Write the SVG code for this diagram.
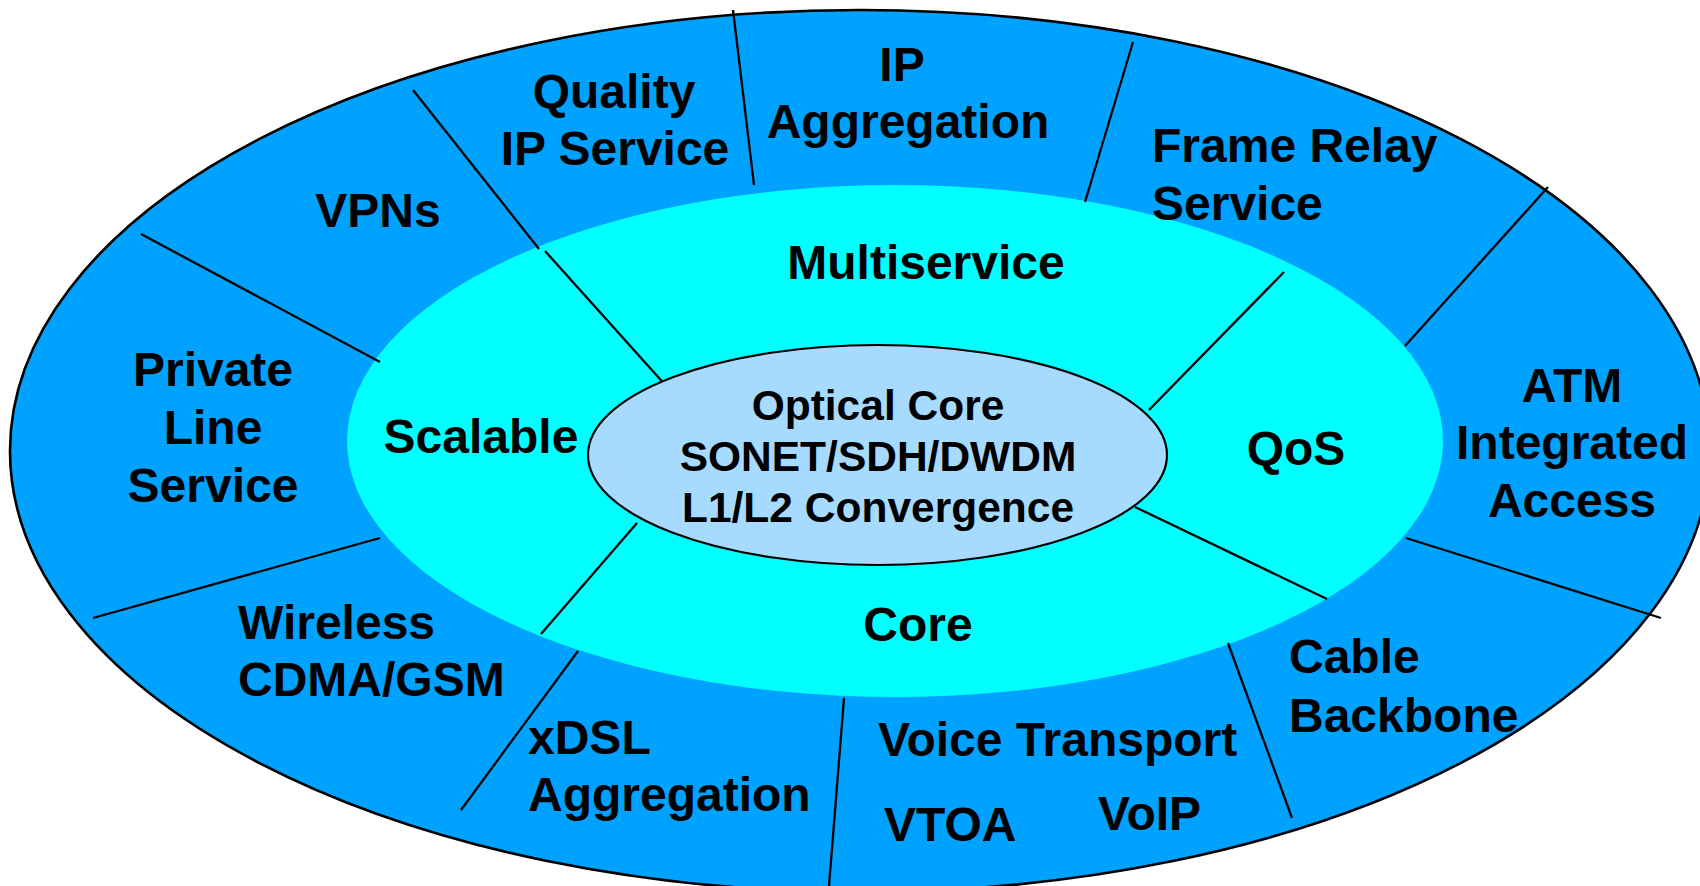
<svg xmlns="http://www.w3.org/2000/svg" width="1700" height="886" viewBox="0 0 1700 886">
<style>
text{font-family:"Liberation Sans",Arial,Helvetica,sans-serif;font-weight:bold;fill:#000}
.o{font-size:48px}
.c{text-anchor:middle}
.i{font-size:42.5px;text-anchor:middle}
.ln{stroke:#000;stroke-width:2.3;fill:none;stroke-linecap:butt}
</style>
<rect width="1700" height="886" fill="#fff"/>
<g id="outer-ring">
<ellipse cx="860" cy="451" rx="850" ry="441" fill="#00A2FF" stroke="#000" stroke-width="2.6"/>
</g>
<g id="middle-ring">
<ellipse cx="895" cy="441" rx="548" ry="256" fill="#00FFFF"/>
</g>
<g id="connectors">
<line class="ln" x1="733" y1="10" x2="754" y2="185"/>
<line class="ln" x1="413" y1="90" x2="539" y2="249"/>
<line class="ln" x1="545" y1="251" x2="668" y2="388"/>
<line class="ln" x1="141" y1="234" x2="380" y2="362"/>
<line class="ln" x1="1133" y1="42" x2="1085" y2="202"/>
<line class="ln" x1="1548" y1="187" x2="1405" y2="346"/>
<line class="ln" x1="1284" y1="272" x2="1149" y2="410"/>
<line class="ln" x1="380" y1="538" x2="93" y2="618"/>
<line class="ln" x1="637" y1="523" x2="541" y2="634"/>
<line class="ln" x1="578" y1="651" x2="461" y2="810"/>
<line class="ln" x1="844" y1="698" x2="829" y2="886"/>
<line class="ln" x1="1135" y1="507" x2="1327" y2="599"/>
<line class="ln" x1="1228" y1="643" x2="1292" y2="818"/>
<line class="ln" x1="1406" y1="538" x2="1661" y2="618"/>
</g>
<g id="optical-core">
<ellipse cx="877.5" cy="455" rx="289.5" ry="110" fill="#A6DBFF" stroke="#000" stroke-width="2.2"/>
<text class="i" x="878" y="420">Optical Core</text>
<text class="i" x="878" y="471">SONET/SDH/DWDM</text>
<text class="i" x="878" y="522">L1/L2 Convergence</text>
</g>
<g id="multiservice"><text class="o c" x="926" y="279">Multiservice</text></g>
<g id="scalable"><text class="o c" x="481" y="453">Scalable</text></g>
<g id="qos"><text class="o c" x="1296" y="465">QoS</text></g>
<g id="core"><text class="o c" x="918" y="641">Core</text></g>
<g id="quality-ip-service">
<text class="o c" x="614" y="108">Quality</text>
<text class="o c" x="615" y="165">IP Service</text>
</g>
<g id="ip-aggregation">
<text class="o c" x="902" y="81">IP</text>
<text class="o c" x="908" y="138">Aggregation</text>
</g>
<g id="frame-relay">
<text class="o" x="1152" y="162">Frame Relay</text>
<text class="o" x="1152" y="220">Service</text>
</g>
<g id="vpns"><text class="o c" x="378" y="227">VPNs</text></g>
<g id="private-line">
<text class="o c" x="213" y="386">Private</text>
<text class="o c" x="213" y="444">Line</text>
<text class="o c" x="213" y="502">Service</text>
</g>
<g id="atm">
<text class="o c" x="1572" y="402">ATM</text>
<text class="o c" x="1572" y="459">Integrated</text>
<text class="o c" x="1572" y="517">Access</text>
</g>
<g id="wireless">
<text class="o" x="238" y="639">Wireless</text>
<text class="o" x="238" y="696">CDMA/GSM</text>
</g>
<g id="xdsl">
<text class="o" x="528" y="754">xDSL</text>
<text class="o" x="528" y="811">Aggregation</text>
</g>
<g id="voice-transport">
<text class="o" x="878" y="756">Voice Transport</text>
<text class="o" x="884" y="841">VTOA</text>
<text class="o" x="1098" y="830">VoIP</text>
</g>
<g id="cable-backbone">
<text class="o" x="1289" y="673">Cable</text>
<text class="o" x="1289" y="732">Backbone</text>
</g>
</svg>
